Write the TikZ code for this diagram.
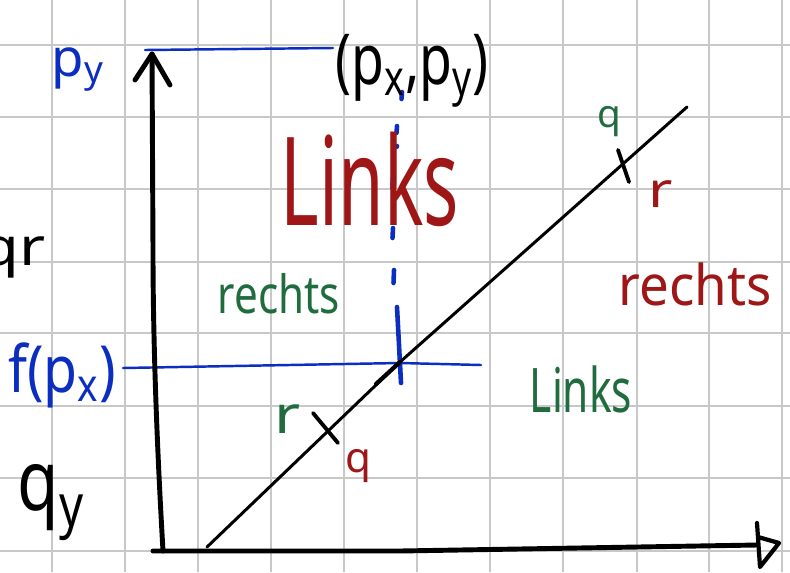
\documentclass[tikz,border=0pt]{standalone}
\usepackage{fontspec}
\setmainfont{Noto Sans}
\usepackage{graphicx}
\definecolor{inkred}{RGB}{158,22,22}
\definecolor{inkgreen}{RGB}{32,108,62}
\definecolor{inkblue}{RGB}{12,46,192}
\definecolor{gridgray}{RGB}{200,200,200}
% hand-lettered label: size, horizontal squeeze, text
\newcommand\hw[3]{\scalebox{#2}[1]{\fontsize{#1}{#1}\selectfont #3}}
\tikzset{
  gridline/.style={gridgray, line width=1.2pt},
  axis/.style={black, line width=2.8pt, line cap=round, line join=round},
  diag/.style={black, line width=1.7pt, line cap=round},
  tickmark/.style={black, line width=2.2pt, line cap=round},
  helper/.style={inkblue, line width=1.4pt, line cap=round},
  dashmark/.style={inkblue, line width=2.6pt, line cap=round},
  lbl/.style={inner sep=0pt, anchor=base},
}
\begin{document}
\begin{tikzpicture}[x=0.02cm, y=-0.02cm]
\useasboundingbox (0,0) rectangle (790,572);
\fill[white] (0,0) rectangle (790,572);
\clip (0,0) rectangle (790,572);

% squared paper
\foreach \gx in {52,125,198,271,344,417,490,563,637,709,782}
  \draw[gridline] (\gx,0) -- (\gx,572);
\foreach \gy in {45,117,189,262,333,406,478,551}
  \draw[gridline] (0,\gy) -- (790,\gy);

% key points
\coordinate (O) at (163,551);
\coordinate (Ytip) at (152,54);
\coordinate (Yl) at (135,80);
\coordinate (Yr) at (170,85);
\coordinate (Xs) at (153,551);
\coordinate (Xm) at (400,551);
\coordinate (Xtip) at (757,545);
\coordinate (Xa) at (757,523);
\coordinate (Xb) at (760,567);
\coordinate (Xc) at (779,543);
\coordinate (Xd) at (758,537);
\coordinate (D0) at (207,547);
\coordinate (P) at (400,362);
\coordinate (D1) at (687,107);
\coordinate (T1a) at (313,413);
\coordinate (T1b) at (338,443);
\coordinate (T2a) at (618,150);
\coordinate (T2b) at (629,182);
\coordinate (PyL) at (145,50);
\coordinate (PyR) at (333,48);
\coordinate (FL) at (123,368);
\coordinate (FM) at (400,363);
\coordinate (FR) at (481,365);
\coordinate (V0) at (397,307);
\coordinate (V1) at (399,345);
\coordinate (V2) at (401,383);

% blue helper lines
\draw[helper] (PyL) -- (PyR);
\draw[helper] (FL) -- (FM) -- (FR);
\draw[dashmark] (V0) -- (V1) -- (V2);
\foreach \ya/\yb/\xx in {92/99/402, 126/133/397, 146/147/397, 178/188/393, 228/238/393, 270/283/394}
  \draw[dashmark] (\xx,\ya) -- (\xx-0.5,\yb);

% axes
\draw[axis] (O) .. controls (156,430) and (153,330) .. (153,250) -- (Ytip);
\draw[axis] (Yl) -- (Ytip) -- (Yr);
\draw[axis] (Xs) -- (Xm) -- (Xtip);
\draw[axis, line width=2.4pt] (Xa) -- (Xb) -- (Xc) -- (Xd);

% the line through q and r
\draw[diag] (D0) -- (P) -- (D1);
\draw[diag, line width=2.4pt] (376,384) -- (P);
\draw[tickmark] (T1a) -- (T1b);
\draw[tickmark] (T2a) -- (T2b);

% labels
\node[lbl, inkred]   (linksbig)   at (370,225) {\hw{70pt}{0.6}{Links}};
\node[lbl, inkgreen] (rechtsleft) at (279,313) {\hw{30pt}{0.8}{rechts}};
\node[lbl, inkred]   (rechtsright) at (695,305) {\hw{32pt}{0.94}{rechts}};
\node[lbl, inkgreen] (linkssmall) at (581,412) {\hw{35pt}{0.69}{Links}};
\node[lbl, inkgreen] (qtop) at (609,127) {\hw{22pt}{1}{q}};
\node[lbl, inkred]   (rtop) at (661,207) {\hw{28pt}{1.2}{r}};
\node[lbl, inkgreen] (rlow) at (288,433) {\hw{30pt}{1.2}{r}};
\node[lbl, inkred]   (qlow) at (358,472) {\hw{24pt}{1}{q}};
\node[lbl, black]    (qy) at (51,510) {\hw{48pt}{0.8}{q\textsubscript{y}}};
\node[lbl, black, anchor=base east] (qr) at (46,265) {\hw{30pt}{1.2}{qr}};
\node[lbl, inkblue]  (py) at (78,76) {\hw{30pt}{1}{p\textsubscript{y}}};
\node[lbl, inkblue]  (fpx) at (62,392) {\hw{37pt}{0.85}{f(p\textsubscript{x})}};
\node[lbl, black]    (pxpy) at (412,84) {\hw{40pt}{0.76}{(p\textsubscript{x},p\textsubscript{y})}};
\end{tikzpicture}
\end{document}
